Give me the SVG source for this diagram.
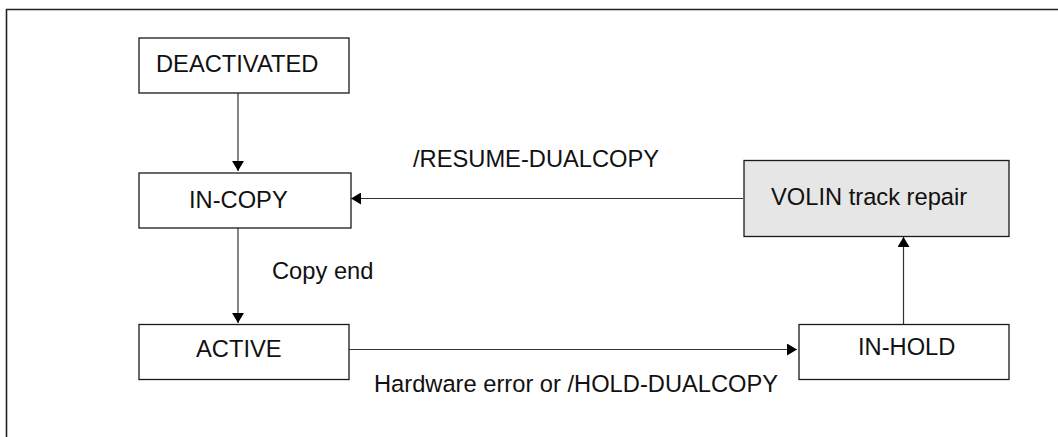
<svg xmlns="http://www.w3.org/2000/svg" width="1058" height="437" viewBox="0 0 1058 437">
  <style>
    .box { fill: #ffffff; stroke: #1a1a1a; stroke-width: 1.3; }
    .box.shaded { fill: #e6e6e6; }
    .lbl { font-family: "Liberation Sans", Arial, sans-serif; font-size: 23.7px; fill: #111111; }
    .edge { fill: none; stroke: #333333; stroke-width: 1.2; marker-end: url(#arrow); }
    .frame { fill: none; stroke: #222222; stroke-width: 1.6; }
  </style>
  <defs>
    <marker id="arrow" viewBox="0 0 10 12" refX="10" refY="6" markerWidth="10" markerHeight="12" markerUnits="userSpaceOnUse" orient="auto">
      <path d="M0,0 L10,6 L0,12 Z" fill="#000000"/>
    </marker>
  </defs>

  <rect width="1058" height="437" fill="#ffffff"/>
  <!-- open frame: left and top edges -->
  <path class="frame" d="M6.5,437 V9.5 H1058"/>

  <g id="connectors">
    <path class="edge" d="M238,93 V171"/>
    <path class="edge" d="M238,228 V323"/>
    <path class="edge" d="M346,349.5 H797"/>
    <path class="edge" d="M903.5,324 V237"/>
    <path class="edge" d="M743,198.5 H351"/>
    <text class="lbl" x="272" y="279">Copy end</text>
    <text class="lbl" x="413" y="167">/RESUME-DUALCOPY</text>
    <text class="lbl" x="374" y="392">Hardware error or /HOLD-DUALCOPY</text>
  </g>

  <g id="deactivated">
    <rect class="box" x="139" y="38" width="210" height="55"/>
    <text class="lbl" x="156" y="72">DEACTIVATED</text>
  </g>
  <g id="in-copy">
    <rect class="box" x="139" y="173" width="212" height="55"/>
    <text class="lbl" x="189" y="208">IN-COPY</text>
  </g>
  <g id="active">
    <rect class="box" x="139" y="324.5" width="210" height="55"/>
    <text class="lbl" x="196" y="357">ACTIVE</text>
  </g>
  <g id="in-hold">
    <rect class="box" x="799" y="324.5" width="210" height="55"/>
    <text class="lbl" x="858" y="355">IN-HOLD</text>
  </g>
  <g id="volin-track-repair">
    <rect class="box shaded" x="744" y="160.5" width="265" height="76"/>
    <text class="lbl" x="771" y="205">VOLIN track repair</text>
  </g>
</svg>
